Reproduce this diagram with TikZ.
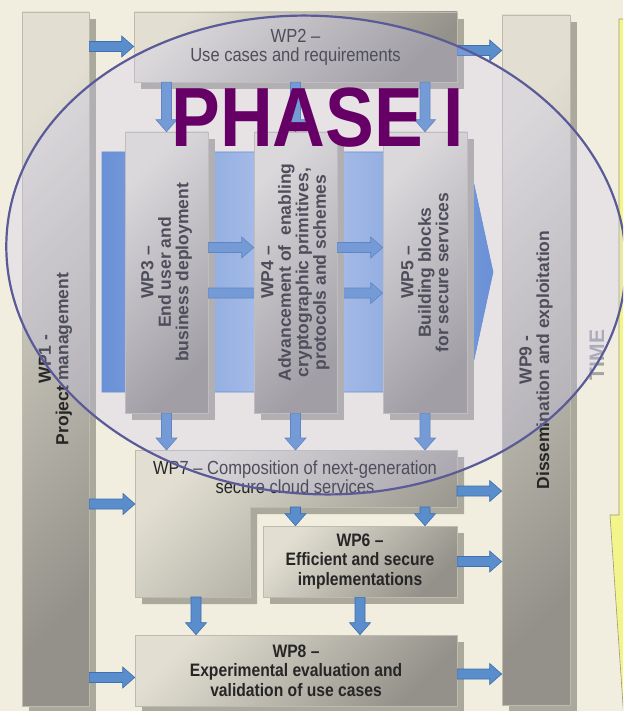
\documentclass[tikz,border=0pt]{standalone}
\usepackage{fontspec}
\setmainfont{Liberation Sans}
\newfontfamily\narrowfont[FakeStretch=0.87,Ligatures=TeX]{Liberation Sans}
\usetikzlibrary{calc,shadows}

\definecolor{paper}{HTML}{F2EEDF}
\definecolor{boxlight}{HTML}{E2DFD2}
\definecolor{boxdark}{HTML}{94918A}
\definecolor{boxline}{HTML}{BDBAAE}
\definecolor{boxshadow}{HTML}{ABA89C}
\definecolor{arrowblue}{HTML}{5A8DCB}
\definecolor{arrowedge}{HTML}{3F6FB0}
\definecolor{bigblue}{HTML}{4A7FCB}
\definecolor{biglight}{HTML}{AFC7E6}
\definecolor{bigedge}{HTML}{4A7CC6}
\definecolor{phasefill}{HTML}{C8C6FA}
\definecolor{phaseline}{HTML}{5A5A98}
\definecolor{phasetext}{HTML}{660066}
\definecolor{timeyellow}{HTML}{F3F58A}
\definecolor{timeedge}{HTML}{9A9A80}
\definecolor{timegrey}{HTML}{A3A3A3}
\definecolor{textgrey}{HTML}{262626}

\tikzset{
  wpbox/.style={draw=boxline, line width=0.6pt, top color=boxlight, bottom color=boxdark,
    shading angle=45, drop shadow={shadow xshift=7pt, shadow yshift=-7pt, fill=boxshadow, opacity=1}},
  htext/.style={align=center, text=textgrey, font=\narrowfont\bfseries\fontsize{18}{19.5}\selectfont},
  hplain/.style={align=center, text=textgrey, font=\narrowfont\fontsize{19}{19}\selectfont},
  vtext/.style={rotate=90, align=center, text=textgrey, font=\bfseries\fontsize{17.5}{17.5}\selectfont},
  blockarrow/.style={fill=arrowblue, draw=arrowedge, line width=0.6pt},
  bigarrow/.style={draw=bigedge, line width=0.6pt, left color=bigblue, right color=bigblue, middle color=biglight},
  timearrow/.style={fill=timeyellow, draw=timeedge, line width=0.6pt},
  timetext/.style={rotate=90, text=timegrey, font=\bfseries\fontsize{21}{21}\selectfont},
  phase/.style={draw=phaseline, line width=2.2pt, fill=phasefill, fill opacity=0.25},
  phasetitle/.style={anchor=base, inner sep=0pt, text=phasetext, font=\narrowfont\bfseries\fontsize{84}{84}\selectfont}
}

% block arrow to the right: y and start from #1, end x from #2
\newcommand{\rightblock}[2]{%
  \draw[blockarrow] let \p1=(#1), \p2=(#2) in
    (\x1,\y1+5pt) -- (\x2-12pt,\y1+5pt) -- (\x2-12pt,\y1+10.5pt) -- (\x2,\y1)
    -- (\x2-12pt,\y1-10.5pt) -- (\x2-12pt,\y1-5pt) -- (\x1,\y1-5pt) -- cycle;}
% block arrow downwards: x and start from #1, end y from #2
\newcommand{\downblock}[2]{%
  \draw[blockarrow] let \p1=(#1), \p2=(#2) in
    (\x1-5pt,\y1) -- (\x1-5pt,\y2+12pt) -- (\x1-10.5pt,\y2+12pt) -- (\x1,\y2)
    -- (\x1+10.5pt,\y2+12pt) -- (\x1+5pt,\y2+12pt) -- (\x1+5pt,\y1) -- cycle;}

\begin{document}
\begin{tikzpicture}[x=1pt,y=-1pt]
  \useasboundingbox (0,0) rectangle (623,711);
  \clip (0,0) rectangle (623,711);
  \fill[paper] (0,0) rectangle (623,711);

  % time arrow
  \path[timearrow] (619,19) -- (645,19) -- (645,720) -- (624,720) -- (610,515) -- (619,515) -- cycle;
  \node[timetext] (time) at (597,355) {TIME};

  % side columns
  \node[wpbox, minimum width=67pt, minimum height=694pt] (wp1) at (55.5,359) {};
  \node[vtext] (wp1text) at (wp1) {WP1 -\\ Project management};
  \node[wpbox, minimum width=68pt, minimum height=690pt] (wp9) at (536,360) {};
  \node[vtext] (wp9text) at (wp9) {WP9 -\\ Dissemination and exploitation};

  \node[wpbox, hplain, minimum width=323pt, minimum height=70pt] (wp2) at (295.5,47) {WP2 –\\ Use cases and requirements};

  % phase I
  \path[bigarrow] (102,152) -- (467,152) -- (493,272) -- (467,392) -- (102,392) -- cycle;
  \node[wpbox, minimum width=83pt, minimum height=281pt] (wp3) at (166.5,272.5) {};
  \node[wpbox, minimum width=84pt, minimum height=281pt] (wp5) at (425,272.5) {};
  \rightblock{wp3.east |- 0,293}{wp5.west}
  \node[wpbox, minimum width=83pt, minimum height=281pt] (wp4) at (295.5,272.5) {};
  \node[vtext] (wp3text) at (wp3) {WP3 –\\ End user and\\ business deployment};
  \node[vtext] (wp4text) at (wp4) {WP4 –\\ Advancement of\ \ enabling\\ cryptographic primitives,\\ protocols and schemes};
  \node[vtext] (wp5text) at (wp5) {WP5 –\\ Building blocks\\ for secure services};
  \rightblock{wp3.east |- 0,247.5}{wp4.west}
  \rightblock{wp4.east |- 0,247.5}{wp5.west}
  \foreach \w in {wp3,wp4,wp5} {\downblock{wp2.south -| \w}{\w.north}}

  % WP7
  \coordinate (wp7top) at (135,450);
  \coordinate (wp7step) at (250,507);
  \coordinate (wp7east) at (457,491);
  \coordinate (wp7foot) at (196,597);
  \path[wpbox] (wp7top) -- (457,450) -- (457,507) -- (wp7step) -- (250,597) -- (135,597) -- cycle;
  \node[hplain] (wp7) at (295,477) {WP7 – Composition of next-generation\\ secure cloud services};
  \foreach \w in {wp3,wp4,wp5} {\downblock{\w.south}{wp7top}}

  \node[wpbox, htext, minimum width=194pt, minimum height=71pt] (wp6) at (360,561.5) {WP6 –\\ Efficient and secure\\ implementations};
  \node[wpbox, htext, minimum width=322pt, minimum height=71pt] (wp8) at (296,670.5) {WP8 –\\ Experimental evaluation and\\ validation of use cases};
  \foreach \w in {wp4,wp5} {\downblock{\w |- wp7step}{wp6.north}}
  \downblock{wp7foot}{wp8.north}
  \downblock{wp6.south}{wp8.north}

  % arrows to the right
  \rightblock{wp1.east |- 0,46.5}{wp2.west}
  \rightblock{wp2.east |- 0,50.5}{wp9.west}
  \rightblock{wp1.east |- 0,504}{wp7top}
  \rightblock{wp1.east |- 0,677.5}{wp8.west}
  \rightblock{wp7east}{wp9.west}
  \rightblock{wp6.east}{wp9.west}
  \rightblock{wp8.east |- 0,674}{wp9.west}

  % phase ellipse
  \draw[phase, rotate around={-4:(316,255)}] (316,255) ellipse [x radius=310pt, y radius=239pt];
  \node[phasetitle] (phase) at (317.5,147) {PHASE I};
\end{tikzpicture}
\end{document}
